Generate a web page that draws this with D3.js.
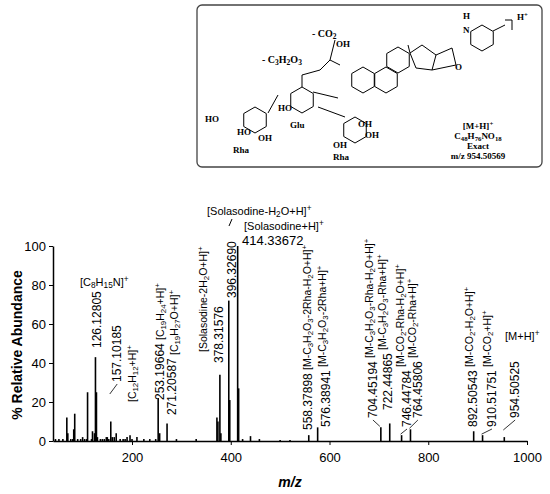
<!DOCTYPE html>
<html><head><meta charset="utf-8">
<script src="https://cdn.jsdelivr.net/npm/d3@7"></script>
<style>body{margin:0;background:#fff}</style>
</head><body><div id="chart"></div>
<script>
// spectrum peaks (m/z, % relative abundance)
const peakMz  = [45,52,60,68,70,76,80,82,84,90,96,100,104,108,110,118,120,124,126,128,130,136,140,144,148,150,153,157,160,164,168,176,182,186,190,196,200,210,224,236,248,253,256,271,290,330,372,374,378,380,396,398,414,416,424,440,458,500,520,558,576,704,722,746,764,892,910,954];
const peakInt = [1,1,1,12,4,1,1,6,14,1,1,2,1,1,25,1,5,4,43,25,2,1,1,1,2,2,1,10,2,2,4,1,1,1,2,3,1,2,1,1,1,22,4,9,1,1,12,10,34,4,72,21,100,27,1,2.5,1,0.5,0.5,3,7,7,9,3,6,5,3,2];

// m/z value labels: text, m/z of the text column, lower end, m/z of the peak it points to
const numText = ["126.12805","157.10185","253.19664","271.20587","378.31576","396.32690","558.37898","576.38941",
  "704.45194","722.44865","746.44784","764.45806","892.50543","910.51751","954.50525"];
const numPos  = [129,170,257,281,376,402,556,593,688,718,757,779,891,929,976];
const numBase = [348,382,400,415,363,298,430,427,418,410,427,418,427,427,418];
const numPeak = [126,157,253,271,378,396,558,576,704,722,746,764,892,910,954];

// ion formula labels (rotated)
const ionText = ["[C_{12}H_{12}+H]^{+}","[C_{19}H_{24}+H]^{+}","[C_{19}H_{27}O+H]^{+}","[Solasodine-2H_{2}O+H]^{+}",
  "[M-C_{3}H_{2}O_{3}-2Rha-H_{2}O+H]^{+}","[M-C_{3}H_{2}O_{3}-2Rha+H]^{+}",
  "[M-C_{3}H_{2}O_{3}-Rha-H_{2}O+H]^{+}","[M-C_{3}H_{2}O_{3}-Rha+H]^{+}",
  "[M-CO_{2}-Rha-H_{2}O+H]^{+}","[M-CO_{2}-Rha+H]^{+}","[M-CO_{2}-H_{2}O+H]^{+}","[M-CO_{2}+H]^{+}"];
const ionPos  = [202,257,287,344,556,585,680,708,743,769,884,919];
const ionBase = [402,340,355,352,370,367,358,350,367,358,367,367];

const xTicks = [200,400,600,800,1000];
const yTicks = [0,20,40,60,80,100];

const W = 550, H = 494;
const svg = d3.select("#chart").append("svg").attr("width", W).attr("height", H)
  .style("font-family", "Arial, Liberation Sans, sans-serif");

const x = d3.scaleLinear().domain([40, 1000]).range([53, 527]);
const y = d3.scaleLinear().domain([0, 100]).range([441, 246]);

// rich text helper: _{sub} ^{sup}
function rich(sel, str, size) {
  const re = /(_\{[^}]*\}|\^\{[^}]*\}|[^_^]+)/g;
  let m;
  while ((m = re.exec(str)) !== null) {
    const s = m[0];
    if (s[0] === "_") sel.append("tspan").attr("baseline-shift", "-25%").attr("font-size", size * 0.75).text(s.slice(2, -1));
    else if (s[0] === "^") sel.append("tspan").attr("baseline-shift", "45%").attr("font-size", size * 0.75).text(s.slice(2, -1));
    else sel.append("tspan").text(s);
  }
}

// axes
const gx = svg.append("g").attr("transform", `translate(0,${y(0)})`)
  .call(d3.axisBottom(x).tickValues(xTicks).tickFormat(d3.format("d")).tickSize(4).tickSizeOuter(0));
gx.select(".domain").attr("stroke-width", 1.5);
gx.selectAll("text").attr("font-size", 13).attr("dy", "1.1em");
const gy = svg.append("g").attr("transform", `translate(${x(40)},0)`)
  .call(d3.axisLeft(y).tickValues(yTicks).tickSize(4).tickSizeOuter(0));
gy.select(".domain").attr("stroke-width", 1.5);
gy.selectAll("text").attr("font-size", 13);

svg.append("text").attr("transform", "translate(22,345) rotate(-90)").attr("text-anchor", "middle")
  .attr("font-size", 14).attr("font-weight", "bold").text("% Relative Abundance");
svg.append("text").attr("x", 290).attr("y", 487).attr("text-anchor", "middle")
  .attr("font-size", 14).attr("font-weight", "bold").attr("font-style", "italic").text("m/z");

// peaks
svg.selectAll("line.pk").data(peakMz).enter().append("line").attr("class", "pk")
  .attr("x1", d => x(d)).attr("x2", d => x(d))
  .attr("y1", y(0)).attr("y2", (d, i) => y(peakInt[i]))
  .attr("stroke", "#000").attr("stroke-width", 1.6);

// number labels
numText.forEach((t, i) => {
  svg.append("text").attr("transform", `translate(${x(numPos[i]) + 4},${numBase[i]}) rotate(-90)`)
    .attr("font-size", 12).text(t);
  const pkInt = peakInt[peakMz.indexOf(numPeak[i])];
  if (Math.abs(x(numPos[i]) - x(numPeak[i])) > 5 && y(pkInt) > numBase[i] + 4) {
    svg.append("line").attr("x1", x(numPos[i])).attr("y1", numBase[i] + 2)
      .attr("x2", x(numPeak[i]) - 1).attr("y2", Math.min(numBase[i] + 12, y(pkInt) - 1))
      .attr("stroke", "#000").attr("stroke-width", 0.8);
  }
});
// ion labels
ionText.forEach((t, i) => {
  const s = svg.append("text").attr("transform", `translate(${x(ionPos[i]) + 3.5},${ionBase[i]}) rotate(-90)`)
    .attr("font-size", 10.5);
  rich(s, t, 10.5);
});

// horizontal annotations
const h1 = svg.append("text").attr("x", 80).attr("y", 286).attr("font-size", 11); rich(h1, "[C_{8}H_{15}N]^{+}", 11);
const h2 = svg.append("text").attr("x", 207).attr("y", 215).attr("font-size", 11); rich(h2, "[Solasodine-H_{2}O+H]^{+}", 11);
const h3 = svg.append("text").attr("x", 244).attr("y", 230).attr("font-size", 11); rich(h3, "[Solasodine+H]^{+}", 11);
svg.append("text").attr("x", 242).attr("y", 245).attr("font-size", 13).text("414.33672");
const h4 = svg.append("text").attr("x", 505).attr("y", 340).attr("font-size", 11); rich(h4, "[M+H]^{+}", 11);
svg.append("line").attr("x1", 232).attr("y1", 219).attr("x2", 229).attr("y2", 226).attr("stroke", "#000");

// structure box
const box = svg.append("g").attr("font-family", "Liberation Serif, serif").attr("font-weight", "bold").attr("font-size", 9);
box.append("rect").attr("x", 197).attr("y", 5).attr("width", 345).attr("height", 162).attr("rx", 5)
  .attr("fill", "none").attr("stroke", "#444").attr("stroke-width", 1.3);
const hex = (cx, cy, r) => {
  const p = d3.range(6).map(k => [cx + r * Math.cos(Math.PI / 6 + k * Math.PI / 3), cy + r * Math.sin(Math.PI / 6 + k * Math.PI / 3)]);
  return "M" + p.join("L") + "Z";
};
const rings = [[363,80],[386,80],[398,60],[302,100],[255,120],[355,130],[482,38]];
rings.forEach(r => box.append("path").attr("d", hex(r[0], r[1], 13)).attr("fill", "none").attr("stroke", "#000"));
box.append("path").attr("d", "M410,53L422,45L436,55L432,70L416,68Z M436,55L452,48L456,65L432,70").attr("fill", "none").attr("stroke", "#000");
box.append("path").attr("d", "M313,92L338,98 M302,87L302,75L320,70L330,60L340,65 M330,60L335,40 M268,113L278,95 M318,107L345,117 M493,31L505,25 M410,53L408,45 M505,20L512,20L512,30").attr("fill", "none").attr("stroke", "#000");
const bt = (xx, yy, s, sz) => { const t = box.append("text").attr("x", xx).attr("y", yy).attr("font-size", sz || 9); rich(t, s, sz || 9); };
bt(517, 20, "H^{+}"); bt(312, 37, "- CO_{2}", 10); bt(336, 47, "OH"); bt(262, 63, "- C_{3}H_{2}O_{3}", 10);
bt(278, 111, "HO"); bt(290, 128, "Glu"); bt(205, 122, "HO"); bt(237, 135, "HO"); bt(258, 141, "OH");
bt(233, 153, "Rha"); bt(358, 127, "OH"); bt(365, 138, "OH"); bt(333, 148, "OH"); bt(333, 160, "Rha");
bt(455, 70, "O"); bt(463, 19, "H"); bt(463, 33, "N");
box.append("g").attr("text-anchor", "middle").call(g => {
  const a = g.append("text").attr("x", 478).attr("y", 129); rich(a, "[M+H]^{+}", 9);
  const b = g.append("text").attr("x", 478).attr("y", 139); rich(b, "C_{48}H_{76}NO_{18}", 9);
  g.append("text").attr("x", 478).attr("y", 149).text("Exact");
  g.append("text").attr("x", 478).attr("y", 159).text("m/z 954.50569");
});
</script></body></html>
